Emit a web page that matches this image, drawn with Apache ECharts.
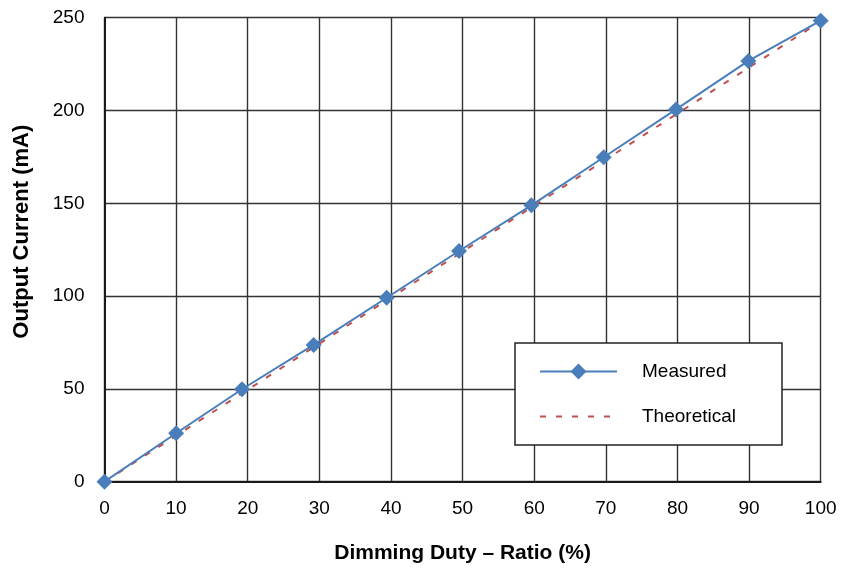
<!DOCTYPE html>
<html>
<head>
<meta charset="utf-8">
<script src="https://cdn.jsdelivr.net/npm/echarts@6/dist/echarts.min.js"></script>
<style>
  html, body { margin: 0; padding: 0; background: #fff; }
  #chart { width: 842px; height: 571px; }
</style>
</head>
<body>
<div id="chart"></div>
<script>
// Measured output current versus PWM dimming duty
const dutyMeasured = [0, 10, 19.2, 29.2, 39.4, 49.5, 59.6, 69.7, 79.8, 89.9, 100];
const currentMeasured = [0, 26.1, 49.8, 73.7, 99.1, 124.3, 148.9, 174.8, 200.6, 226.7, 248.4];

// Ideal (linear) response
const dutyTheoretical = [0, 100];
const currentTheoretical = [0, 248];

const seriesNames = ['Measured', 'Theoretical'];
const xTitle = 'Dimming Duty \u2013 Ratio (%)';
const yTitle = 'Output Current (mA)';

const FONT = '"Liberation Sans", Arial, Helvetica, sans-serif';

const pairs = (xs, ys) => xs.map((x, i) => [x, ys[i]]);

const chart = echarts.init(document.getElementById('chart'), null, { renderer: 'canvas' });

chart.setOption({
  animation: false,
  backgroundColor: '#ffffff',
  grid: { left: 104.5, right: 21.3, top: 17.7, bottom: 89.3, containLabel: false },
  xAxis: {
    type: 'value',
    min: 0, max: 100, interval: 10,
    name: xTitle,
    nameLocation: 'middle',
    nameGap: 61,
    nameTextStyle: { fontFamily: FONT, fontSize: 21, fontWeight: 'bold', color: '#000' },
    axisLine: { show: true, onZero: false, lineStyle: { color: '#1a1a1a', width: 2 } },
    axisTick: { show: false },
    axisLabel: { fontFamily: FONT, fontSize: 19, color: '#000', margin: 18 },
    splitLine: { show: true, lineStyle: { color: '#333', width: 1.4 } }
  },
  yAxis: {
    type: 'value',
    min: 0, max: 250, interval: 50,
    name: yTitle,
    nameLocation: 'middle',
    nameGap: 72,
    nameRotate: 90,
    nameTextStyle: { fontFamily: FONT, fontSize: 22, fontWeight: 'bold', color: '#000', padding: [0, 0, 0, 36] },
    axisLine: { show: true, lineStyle: { color: '#1a1a1a', width: 2 } },
    axisTick: { show: false },
    axisLabel: { fontFamily: FONT, fontSize: 19, color: '#000', margin: 20 },
    splitLine: { show: true, lineStyle: { color: '#333', width: 1.4 } }
  },
  legend: {
    orient: 'vertical',
    left: 515,
    top: 343,
    backgroundColor: '#fff',
    borderColor: '#222',
    borderWidth: 1.5,
    padding: [19, 46, 19, 24],
    itemWidth: 77,
    itemHeight: 20,
    itemGap: 26,
    textStyle: { fontFamily: FONT, fontSize: 19, color: '#000', padding: [0, 0, 4, 20] },
    data: [
      { name: seriesNames[0] },
      { name: seriesNames[1], itemStyle: { opacity: 0 } }
    ]
  },
  series: [
    {
      name: seriesNames[1],
      type: 'line',
      data: pairs(dutyTheoretical, currentTheoretical),
      symbol: 'none',
      lineStyle: { color: '#C0504D', width: 2, type: [6, 10] },
      itemStyle: { color: '#C0504D' },
      z: 2
    },
    {
      name: seriesNames[0],
      type: 'line',
      data: pairs(dutyMeasured, currentMeasured),
      symbol: 'diamond',
      symbolSize: 16,
      showSymbol: true,
      clip: false,
      lineStyle: { color: '#4A7EBB', width: 2 },
      itemStyle: { color: '#4A7EBB' },
      z: 3
    }
  ]
});
</script>
</body>
</html>
